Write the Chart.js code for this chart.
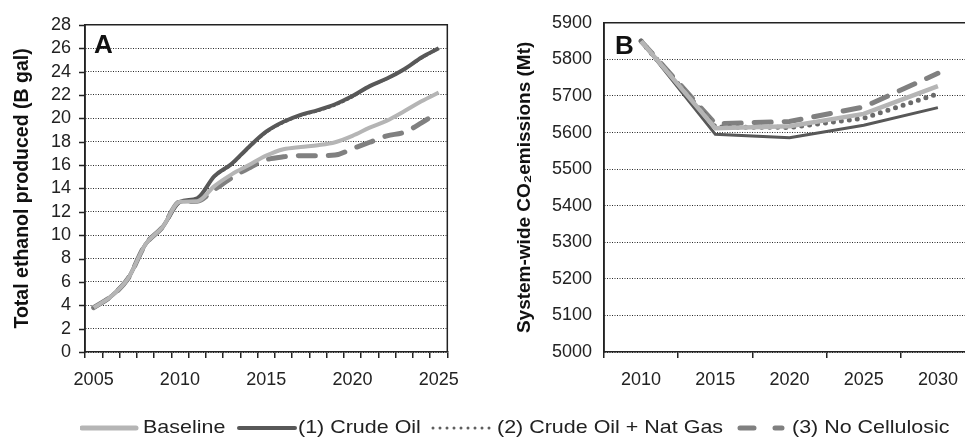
<!DOCTYPE html>
<html>
<head>
<meta charset="utf-8">
<script src="https://cdn.jsdelivr.net/npm/chart.js@4/dist/chart.umd.min.js"></script>
<style>
  html, body { margin: 0; padding: 0; background: #fff; overflow: hidden; width: 965px; height: 441px; }
  #wrapA { position: absolute; left: 0; top: 0; width: 470px; height: 400px; }
  #wrapB { position: absolute; left: 480px; top: 0; width: 510px; height: 400px; }
  #legend { position: absolute; left: 0; top: 0; width: 965px; height: 441px;
            font: 19px "Liberation Sans", Arial, sans-serif; color: #222; white-space: nowrap; }
  #legend svg { position: absolute; top: 422px; }
  #legend span { position: absolute; top: 415px; line-height: 24px; transform: scaleX(1.13); transform-origin: 0 50%; }
</style>
</head>
<body>
<div id="wrapA"><canvas id="chartA" width="470" height="400"></canvas></div>
<div id="wrapB"><canvas id="chartB" width="510" height="400"></canvas></div>
<div id="legend"></div>
<script>
// panel A: total ethanol produced (B gal)
var yearsA = ["2005", "2006", "2007", "2008", "2009", "2010", "2011", "2012", "2013", "2014", "2015",
              "2016", "2017", "2018", "2019", "2020", "2021", "2022", "2023", "2024", "2025"];
var baselineA = [3.8, 4.75, 6.3, 9.2, 10.7, 12.85, 12.9, 14.2, 15.2, 16.0, 16.8, 17.35, 17.55, 17.7, 17.95, 18.5, 19.2, 19.8, 20.6, 21.45, 22.2];
var crudeA    = [3.8, 4.75, 6.3, 9.2, 10.7, 12.85, 13.15, 15.05, 16.1, 17.55, 18.85, 19.7, 20.3, 20.7, 21.2, 21.9, 22.75, 23.4, 24.2, 25.2, 26.0];
var natGasA   = [3.8, 4.75, 6.3, 9.2, 10.7, 12.8, 13.1, 14.95, 16.0, 17.45, 18.75, 19.6, 20.2, 20.6, 21.1, 21.8, 22.7, 23.35, 24.15, 25.1, 25.95];
var noCellA   = [3.8, 4.75, 6.3, 9.2, 10.7, 12.85, 12.9, 13.9, 14.9, 15.75, 16.45, 16.7, 16.8, 16.8, 16.85, 17.4, 17.95, 18.5, 18.8, 19.6, 20.55];

// panel B: system-wide CO2 emissions (Mt)
var yearsB = ["2010", "2015", "2020", "2025", "2030"];
var baselineB = [5850, 5612, 5617, 5651, 5727];
var crudeB    = [5850, 5595, 5586, 5620, 5668];
var natGasB   = [5850, 5615, 5614, 5639, 5706];
var noCellB   = [5850, 5624, 5630, 5670, 5762];

var seriesNames = ["Baseline", "(1) Crude Oil", "(2) Crude Oil + Nat Gas", "(3) No Cellulosic"];
var FONT = "'Liberation Sans', Arial, sans-serif";
var INK = "#222";

// solid y tick marks, frame and the panel letter
var decor = {
    id: "decor",
    afterDraw: function (chart, args, opts) {
        var ctx = chart.ctx, a = chart.chartArea;
        ctx.save();
        ctx.strokeStyle = INK;
        ctx.lineWidth = 1.5;
        ctx.beginPath();
        ctx.moveTo(a.left, a.bottom);
        ctx.lineTo(a.left, a.top);
        ctx.lineTo(a.right, a.top);
        ctx.lineTo(a.right, a.bottom);
        ctx.stroke();
        if (opts.yTicks) {
            var ys = chart.scales.y;
            ctx.beginPath();
            for (var i = 0; i < ys.ticks.length; i++) {
                var py = Math.round(ys.getPixelForTick(i)) + 0.5;
                ctx.moveTo(a.left - 6, py);
                ctx.lineTo(a.left, py);
            }
            ctx.stroke();
        }
        ctx.fillStyle = "#111";
        ctx.font = "bold 26px " + FONT;
        ctx.textBaseline = "alphabetic";
        ctx.fillText(opts.text, a.left + opts.dx, a.top + opts.dy);
        ctx.restore();
    }
};

function makeSets(b, c, n, nc, w) {
    return [
        { label: seriesNames[0], data: b, borderColor: "#b5b5b5", borderWidth: w[0], pointRadius: 0 },
        { label: seriesNames[1], data: c, borderColor: "#585858", borderWidth: w[1], pointRadius: 0 },
        { label: seriesNames[2], data: n, borderColor: w[5], borderWidth: w[2], pointRadius: 0,
          borderDash: w[4], borderCapStyle: "round" },
        { label: seriesNames[3], data: nc, borderColor: "#808080", borderWidth: w[3], pointRadius: 0,
          borderDash: [17, 13], borderCapStyle: "round" }
    ];
}

function makeOptions(cfg) {
    return {
        responsive: false,
        animation: false,
        layout: { padding: { top: cfg.top, right: cfg.right, left: 0, bottom: 0 } },
        elements: { line: { tension: cfg.tension, cubicInterpolationMode: cfg.mode } },
        plugins: {
            legend: { display: false },
            tooltip: { enabled: false },
            decor: cfg.decor
        },
        scales: {
            x: {
                type: "category",
                offset: true,
                afterFit: function (s) { s.height = 48; },
                grid: { offset: true, drawOnChartArea: false, drawTicks: true, tickLength: 6, color: INK, lineWidth: 1.5 },
                border: { color: INK, width: 1.5 },
                ticks: {
                    autoSkip: false, maxRotation: 0, padding: 11, color: INK,
                    font: { family: FONT, size: 18 },
                    callback: function (v, i) {
                        var lab = this.getLabelForValue(v);
                        return Number(lab) % 5 === 0 ? lab : "";
                    }
                }
            },
            y: {
                min: cfg.min, max: cfg.max,
                afterFit: function (s) { s.width = cfg.axisW; },
                grid: { drawTicks: false, color: "#2a2a2a", lineWidth: 1 },
                border: { color: INK, width: 1.5, dash: [1, 1.5] },
                ticks: {
                    stepSize: cfg.step, autoSkip: false, padding: cfg.tickPad, color: INK,
                    font: { family: FONT, size: 18 },
                    callback: function (v) { return String(v); }
                },
                title: {
                    display: true, text: cfg.title, color: "#111",
                    font: { family: FONT, size: cfg.titleSize, weight: "bold" },
                    padding: { top: cfg.titlePad, bottom: 0 }
                }
            }
        }
    };
}

new Chart(document.getElementById("chartA"), {
    type: "line",
    data: { labels: yearsA, datasets: makeSets(baselineA, crudeA, natGasA, noCellA, [4, 4, 2, 5, [2, 3], "#5e5e5e"]) },
    options: makeOptions({ top: 17, right: 12, tension: 0.4, mode: "monotone", min: 0, max: 28, step: 2, axisW: 85, tickPad: 14,
        titlePad: 11, titleSize: 19.5, title: "Total ethanol produced (B gal)",
        decor: { text: "A", dx: 9, dy: 28, yTicks: true } }),
    plugins: [decor]
});

new Chart(document.getElementById("chartB"), {
    type: "line",
    data: { labels: yearsB, datasets: makeSets(baselineB, crudeB, natGasB, noCellB, [4.5, 3, 5, 5, [0, 8], "#6a6a6a"]) },
    options: makeOptions({ top: 14, right: 15, tension: 0, mode: "default", min: 5000, max: 5900, step: 100, axisW: 124, tickPad: 12,
        titlePad: 33, titleSize: 19, title: "System-wide CO\u2082emissions (Mt)",
        decor: { text: "B", dx: 11, dy: 31, yTicks: false } }),
    plugins: [decor]
});

// legend shared by both panels
var legendX = [[80, 143], [237, 298], [430, 497], [737, 792]];
var samples = [
    '<line x1="2" y1="6" x2="56" y2="6" stroke="#b5b5b5" stroke-width="5" stroke-linecap="round"/>',
    '<line x1="2" y1="6" x2="58" y2="6" stroke="#585858" stroke-width="4" stroke-linecap="round"/>',
    '<line x1="3" y1="6" x2="62" y2="6" stroke="#5e5e5e" stroke-width="3" stroke-dasharray="0 7" stroke-linecap="round"/>',
    '<line x1="3" y1="6" x2="45" y2="6" stroke="#808080" stroke-width="5" stroke-dasharray="14 21" stroke-linecap="round"/>'
];
var html = "";
for (var i = 0; i < seriesNames.length; i++) {
    html += '<svg width="64" height="12" style="left:' + legendX[i][0] + 'px">' + samples[i] + '</svg>' +
            '<span style="left:' + legendX[i][1] + 'px">' + seriesNames[i] + '</span>';
}
document.getElementById("legend").innerHTML = html;
</script>
</body>
</html>
